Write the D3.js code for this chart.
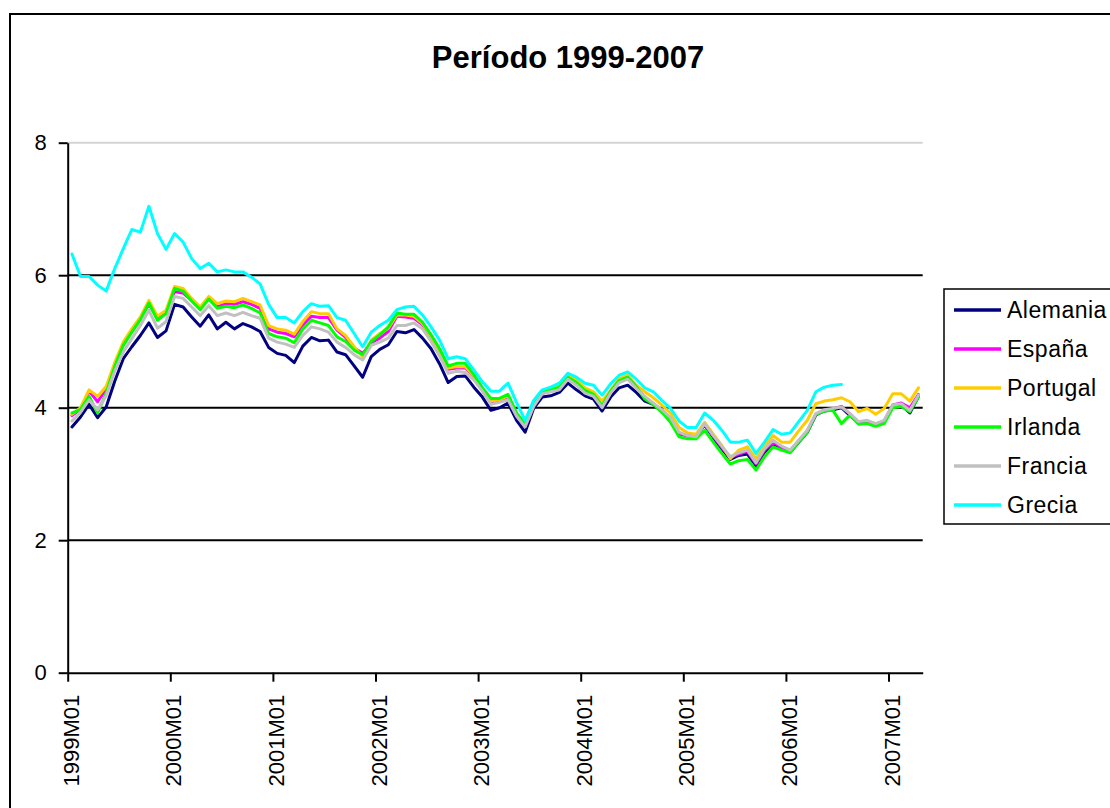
<!DOCTYPE html>
<html>
<head>
<meta charset="utf-8">
<script src="https://cdn.jsdelivr.net/npm/d3@7"></script>
<style>
  html, body { margin: 0; padding: 0; background: #fff; }
  svg { display: block; font-family: "Liberation Sans", Arial, sans-serif; }
</style>
</head>
<body>
<svg id="chart" width="1110" height="808"></svg>
<script>
// Monthly series, 1999M01 .. 2007M04 (100 months)
const startYear = 1999;
const monthCount = 100;
const categories = d3.range(monthCount).map(i =>
  `${startYear + Math.floor(i / 12)}M${String(i % 12 + 1).padStart(2, "0")}`);

const tickLabels = ["1999M01", "2000M01", "2001M01", "2002M01", "2003M01",
                    "2004M01", "2005M01", "2006M01", "2007M01"];
const yTicks = [0, 2, 4, 6, 8];

const alemania = [
  3.71, 3.86, 4.05, 3.85, 4.01, 4.40, 4.74, 4.92, 5.09, 5.28, 5.06, 5.16,
  5.56, 5.52, 5.37, 5.23, 5.40, 5.19, 5.29, 5.19, 5.27, 5.22, 5.15, 4.91,
  4.82, 4.79, 4.68, 4.93, 5.06, 5.01, 5.02, 4.84, 4.80, 4.63, 4.46, 4.77,
  4.88, 4.95, 5.15, 5.13, 5.18, 5.05, 4.89, 4.66, 4.38, 4.47, 4.48, 4.31,
  4.16, 3.96, 4.00, 4.07, 3.81, 3.63, 3.99, 4.16, 4.18, 4.23, 4.37, 4.27,
  4.18, 4.13, 3.95, 4.16, 4.30, 4.34, 4.23, 4.10, 4.05, 3.94, 3.82, 3.61,
  3.58, 3.57, 3.74, 3.55, 3.38, 3.22, 3.28, 3.30, 3.12, 3.33, 3.46, 3.38,
  3.33, 3.48, 3.63, 3.89, 3.95, 3.97, 4.00, 3.88, 3.77, 3.79, 3.74, 3.79,
  4.02, 4.04, 3.92, 4.17
];
const espana = [
  3.88, 3.98, 4.25, 4.09, 4.28, 4.65, 4.96, 5.16, 5.35, 5.56, 5.36, 5.45,
  5.75, 5.73, 5.62, 5.50, 5.66, 5.52, 5.57, 5.56, 5.60, 5.56, 5.50, 5.19,
  5.14, 5.12, 5.07, 5.25, 5.38, 5.36, 5.36, 5.17, 5.06, 4.90, 4.82, 4.98,
  5.05, 5.15, 5.38, 5.37, 5.35, 5.25, 5.06, 4.85, 4.58, 4.60, 4.60, 4.47,
  4.28, 4.08, 4.10, 4.15, 3.88, 3.72, 4.03, 4.22, 4.25, 4.29, 4.45, 4.36,
  4.24, 4.18, 4.02, 4.23, 4.39, 4.44, 4.30, 4.16, 4.06, 3.96, 3.84, 3.61,
  3.57, 3.56, 3.75, 3.57, 3.40, 3.25, 3.30, 3.34, 3.15, 3.36, 3.48, 3.40,
  3.35, 3.50, 3.65, 3.90, 3.96, 3.98, 4.02, 3.90, 3.78, 3.80, 3.75, 3.80,
  4.04, 4.07, 4.00, 4.20
];
const portugal = [
  3.90, 4.00, 4.27, 4.17, 4.32, 4.68, 4.99, 5.19, 5.37, 5.62, 5.38, 5.47,
  5.83, 5.80, 5.65, 5.52, 5.68, 5.57, 5.61, 5.60, 5.65, 5.60, 5.55, 5.24,
  5.19, 5.17, 5.11, 5.30, 5.45, 5.42, 5.42, 5.19, 5.09, 4.92, 4.77, 5.02,
  5.12, 5.20, 5.40, 5.40, 5.38, 5.27, 5.08, 4.86, 4.60, 4.62, 4.62, 4.48,
  4.30, 4.10, 4.12, 4.18, 3.90, 3.74, 4.05, 4.25, 4.28, 4.33, 4.50, 4.42,
  4.30, 4.24, 4.10, 4.26, 4.44, 4.49, 4.34, 4.24, 4.15, 4.04, 3.92, 3.70,
  3.62, 3.60, 3.78, 3.60, 3.43, 3.23, 3.36, 3.41, 3.23, 3.42, 3.58, 3.48,
  3.48, 3.65, 3.81, 4.06, 4.10, 4.12, 4.15, 4.09, 3.94, 3.99, 3.90, 3.99,
  4.21, 4.21, 4.10, 4.30
];
const irlanda = [
  3.92, 3.97, 4.17, 3.92, 4.22, 4.62, 4.94, 5.14, 5.33, 5.58, 5.32, 5.42,
  5.80, 5.76, 5.61, 5.48, 5.64, 5.50, 5.53, 5.51, 5.55, 5.50, 5.43, 5.12,
  5.07, 5.05, 4.98, 5.19, 5.32, 5.28, 5.24, 5.07, 5.00, 4.87, 4.80, 5.00,
  5.10, 5.22, 5.43, 5.41, 5.41, 5.29, 5.10, 4.89, 4.63, 4.67, 4.67, 4.50,
  4.30, 4.14, 4.14, 4.20, 3.92, 3.75, 4.05, 4.24, 4.27, 4.31, 4.46, 4.38,
  4.26, 4.20, 4.03, 4.25, 4.41, 4.46, 4.32, 4.13, 4.05, 3.93, 3.78, 3.56,
  3.53, 3.53, 3.66, 3.48, 3.31, 3.15, 3.20, 3.22, 3.06, 3.26, 3.41, 3.36,
  3.32, 3.48, 3.63, 3.90, 3.95, 3.96, 3.76, 3.89, 3.75, 3.76, 3.72, 3.76,
  4.00, 4.02, 3.94, 4.16
];
const francia = [
  3.80, 3.93, 4.12, 3.97, 4.18, 4.55, 4.84, 5.04, 5.24, 5.47, 5.20, 5.30,
  5.68, 5.65, 5.52, 5.39, 5.54, 5.39, 5.43, 5.39, 5.44, 5.39, 5.35, 5.05,
  4.99, 4.96, 4.91, 5.09, 5.22, 5.19, 5.14, 4.99, 4.91, 4.80, 4.72, 4.94,
  4.99, 5.05, 5.24, 5.24, 5.28, 5.19, 5.00, 4.78, 4.52, 4.55, 4.53, 4.42,
  4.25, 4.05, 4.08, 4.12, 3.87, 3.71, 4.02, 4.21, 4.24, 4.27, 4.43, 4.34,
  4.22, 4.17, 4.00, 4.22, 4.38, 4.43, 4.29, 4.17, 4.07, 3.97, 3.85, 3.63,
  3.58, 3.56, 3.76, 3.58, 3.42, 3.26, 3.32, 3.36, 3.17, 3.38, 3.51, 3.42,
  3.36, 3.51, 3.66, 3.91, 3.97, 3.99, 4.01, 3.91, 3.79, 3.81, 3.76, 3.81,
  4.04, 4.06, 3.96, 4.19
];
const grecia = [
  6.32, 5.98, 5.98, 5.85, 5.76, 6.10, 6.40, 6.69, 6.65, 7.04, 6.63, 6.39,
  6.63, 6.50, 6.25, 6.10, 6.18, 6.05, 6.08, 6.05, 6.05, 5.97, 5.87, 5.56,
  5.36, 5.36, 5.28, 5.45, 5.57, 5.53, 5.54, 5.36, 5.32, 5.12, 4.92, 5.14,
  5.24, 5.32, 5.48, 5.52, 5.53, 5.40, 5.22, 5.02, 4.74, 4.77, 4.74, 4.57,
  4.39, 4.25, 4.25, 4.37, 4.08, 3.81, 4.11, 4.27, 4.31, 4.37, 4.52, 4.46,
  4.37, 4.34, 4.19, 4.36, 4.49, 4.54, 4.43, 4.30, 4.24, 4.11, 3.99, 3.80,
  3.70, 3.70, 3.92, 3.81, 3.66, 3.48, 3.48, 3.51, 3.31, 3.48, 3.67, 3.60,
  3.62, 3.79, 3.96, 4.24, 4.31, 4.34, 4.35, null, null, null, null, null,
  null, null, null, null
];

const seriesNames = ["Alemania", "España", "Portugal", "Irlanda", "Francia", "Grecia"];
const seriesValues = [alemania, espana, portugal, irlanda, francia, grecia];
const seriesColors = ["#000080", "#ff00ff", "#ffcc00", "#00ff00", "#c0c0c0", "#00ffff"];

const svg = d3.select("#chart");
const W = 1110, H = 808;

svg.append("rect").attr("width", W).attr("height", H).attr("fill", "#fff");

// chart frame
svg.append("rect")
  .attr("x", 10).attr("y", 14).attr("width", 1200).attr("height", 900)
  .attr("fill", "none").attr("stroke", "#000").attr("stroke-width", 2);

const plot = { left: 67.7, right: 922.7, top: 142.7, bottom: 672.7 };

const x = d3.scaleLinear().domain([0, monthCount]).range([plot.left, plot.right]);
const y = d3.scaleLinear().domain([0, 8]).range([plot.bottom, plot.top]);

// title
svg.append("text")
  .attr("x", 568).attr("y", 68)
  .attr("text-anchor", "middle")
  .attr("font-size", 31).attr("font-weight", "bold")
  .text("Período 1999-2007");

// horizontal gridlines
svg.append("g")
  .selectAll("line")
  .data(yTicks.filter(v => v > 0))
  .join("line")
  .attr("x1", plot.left).attr("x2", plot.right)
  .attr("y1", d => y(d)).attr("y2", d => y(d))
  .attr("stroke", d => d === 8 ? "#d4d4d4" : "#000")
  .attr("stroke-width", 2);

// series lines, drawn in legend order
const line = d3.line()
  .defined(d => d != null)
  .x((d, i) => x(i + 0.5))
  .y(d => y(d));

svg.append("g")
  .selectAll("path")
  .data(seriesValues)
  .join("path")
  .attr("d", d => line(d))
  .attr("fill", "none")
  .attr("stroke", (d, i) => seriesColors[i])
  .attr("stroke-width", 3)
  .attr("stroke-linejoin", "round")
  .attr("stroke-linecap", "round");

// y axis
const yAxis = svg.append("g")
  .attr("transform", `translate(${plot.left},0)`)
  .call(d3.axisLeft(y).tickValues(yTicks).tickSize(9).tickPadding(12).tickSizeOuter(0));
yAxis.select(".domain").attr("stroke", "#000").attr("stroke-width", 2);
yAxis.selectAll(".tick line").attr("stroke", "#000").attr("stroke-width", 2);
yAxis.selectAll(".tick text")
  .attr("font-size", 22).attr("fill", "#000")
  .attr("font-family", "Liberation Sans, Arial, sans-serif");

// x axis: a tick at the start of each January
const xTickValues = tickLabels.map(lbl => categories.indexOf(lbl));
const xAxis = svg.append("g")
  .attr("transform", `translate(0,${plot.bottom})`)
  .call(d3.axisBottom(x).tickValues(xTickValues).tickSize(9).tickSizeOuter(0)
    .tickFormat(d => categories[d]));
xAxis.select(".domain").attr("stroke", "#000").attr("stroke-width", 2);
xAxis.selectAll(".tick line").attr("stroke", "#000").attr("stroke-width", 2);
xAxis.selectAll(".tick text")
  .attr("font-size", 22).attr("fill", "#000")
  .attr("font-family", "Liberation Sans, Arial, sans-serif")
  .attr("transform", "rotate(-90)")
  .attr("text-anchor", "end")
  .attr("x", -22).attr("y", 10.5).attr("dy", 0);

// legend
const legend = svg.append("g").attr("transform", "translate(944,289)");
legend.append("rect")
  .attr("x", 0).attr("y", 0).attr("width", 220).attr("height", 235)
  .attr("fill", "#fff").attr("stroke", "#000").attr("stroke-width", 1.5);
const item = legend.selectAll("g.item")
  .data(seriesNames)
  .join("g")
  .attr("class", "item")
  .attr("transform", (d, i) => `translate(0,${21 + i * 39})`);
item.append("line")
  .attr("x1", 10).attr("x2", 57)
  .attr("stroke", (d, i) => seriesColors[i])
  .attr("stroke-width", 3.5);
item.append("text")
  .attr("x", 63).attr("dy", "0.35em")
  .attr("font-size", 23).attr("letter-spacing", 0.5)
  .text(d => d);
</script>
</body>
</html>
